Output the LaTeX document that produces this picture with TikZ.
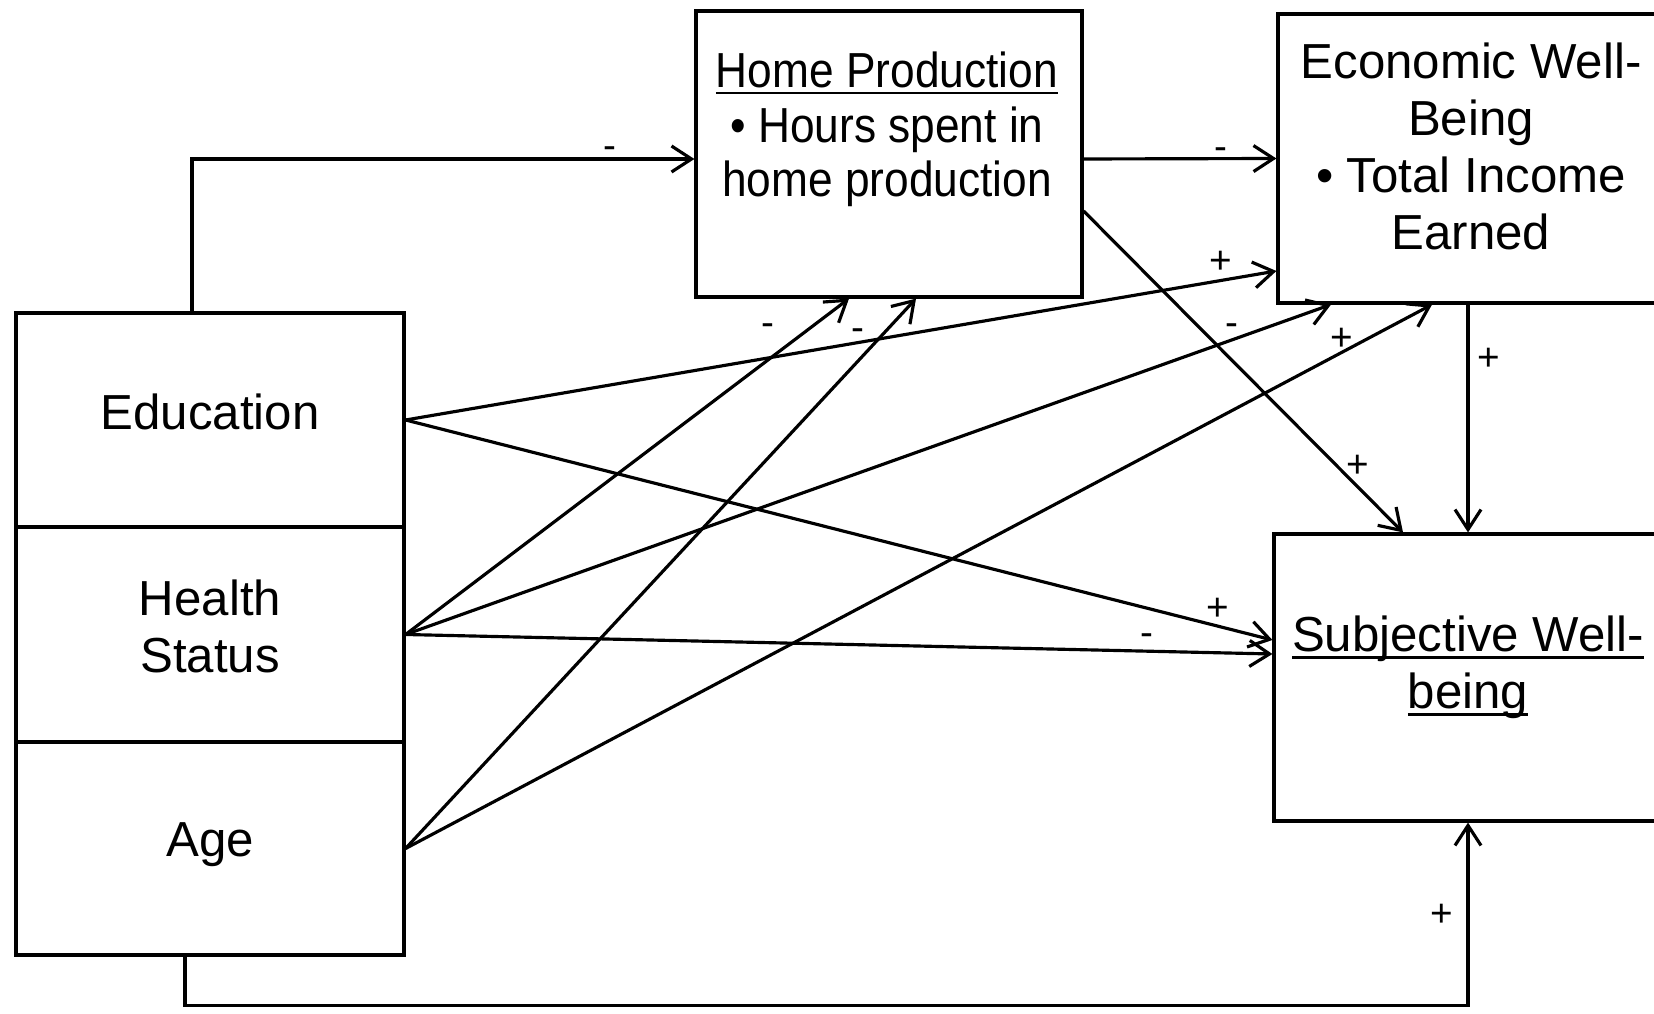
\documentclass[tikz,border=0pt]{standalone}
\usepackage{fontspec}
\setmainfont{Liberation Sans}
\newfontfamily\smalsans[FakeStretch=0.9]{Liberation Sans}
\newcommand\understrek[1]{{\setbox0=\hbox{#1}\leavevmode\rlap{\rule[-2pt]{\wd0}{0.8pt}}\box0}}
\usetikzlibrary{arrows.meta}

\begin{document}
\begin{tikzpicture}[
    box/.style={draw, line width=0.9pt, minimum width=3.88cm, inner sep=0pt, align=center,
        font=\fontsize{14}{16.3}\selectfont},
    venstre/.style={box, text depth=0.17cm},
    boxtxt/.style={inner sep=0pt, align=center, anchor=base, font=\fontsize{14}{16.3}\selectfont},
    pil/.style={-{Straight Barb[length=2mm,width=2.6mm]}, line width=0.9pt},
    tegn/.style={inner sep=0pt, font=\fontsize{11}{11}\selectfont}]
    \useasboundingbox (0,0) rectangle (16.54,10.13);

    %Kasser
        \node[venstre, minimum height=2.14cm] (edu) at (2.10,5.93) {Education};
        \node[venstre, minimum height=2.15cm] (health) at (2.10,3.785) {Health\\Status};
        \node[venstre, minimum height=2.13cm] (age) at (2.10,1.645) {Age};
        \node[box, minimum width=3.86cm, minimum height=2.86cm] (home) at (8.89,8.59) {};
        \node[box, minimum height=2.89cm] (econ) at (14.72,8.545) {};
        \node[box, minimum height=2.87cm] (subj) at (14.68,3.355) {};

    %Tekst (anker = sidste linjes grundlinje)
        \node[boxtxt, font=\fontsize{14}{15.6}\smalsans] (hometxt) at (8.87,8.16) {\understrek{Home Production}\\\textbullet\ Hours spent in\\home production};
        \node[boxtxt] (econtxt) at (14.71,7.63) {Economic Well-\\Being\\\textbullet\ Total Income\\Earned};
        \node[boxtxt] (subjtxt) at (14.68,3.04) {\understrek{Subjective Well-}\\\understrek{being}};

    %Pile
        \draw[pil] ([xshift=-0.18cm]edu.north) |- ([yshift=-0.05cm]home.west);
        \draw[pil] ([yshift=-0.05cm]home.east) -- (econ.west);
        \draw[pil] (edu.east) -- ([yshift=-1.125cm]econ.west);
        \draw[pil] (edu.east) -- ([yshift=0.375cm]subj.west);
        \draw[pil] (health.east) -- ([xshift=-0.40cm]home.south);
        \draw[pil] (health.east) -- ([xshift=-1.41cm]econ.south);
        \draw[pil] (health.east) -- ([yshift=0.235cm]subj.west);
        \draw[pil] (age.east) -- ([xshift=0.27cm]home.south);
        \draw[pil] (age.east) -- ([xshift=-0.40cm]econ.south);
        \draw[pil] (econ.south -| subj.north) -- (subj.north);
        \draw[pil] ([yshift=-0.57cm]home.east) -- ([xshift=-0.65cm]subj.north);
        \draw[pil] ([xshift=-0.25cm]age.south) -- ++(0,-0.49) -| (subj.south);

    %Fortegn
        \node[tegn] (s1) at (6.10,8.60) {-};
        \node[tegn] (s2) at (12.21,8.59) {-};
        \node[tegn] (s3) at (12.21,7.51) {+};
        \node[tegn] (s4) at (7.68,6.83) {-};
        \node[tegn] (s5) at (8.58,6.78) {-};
        \node[tegn] (s6) at (12.32,6.83) {-};
        \node[tegn] (s7) at (13.42,6.74) {+};
        \node[tegn] (s8) at (14.89,6.54) {+};
        \node[tegn] (s9) at (13.58,5.47) {+};
        \node[tegn] (s10) at (12.18,4.04) {+};
        \node[tegn] (s11) at (11.47,3.73) {-};
        \node[tegn] (s12) at (14.42,0.98) {+};
\end{tikzpicture}
\end{document}
